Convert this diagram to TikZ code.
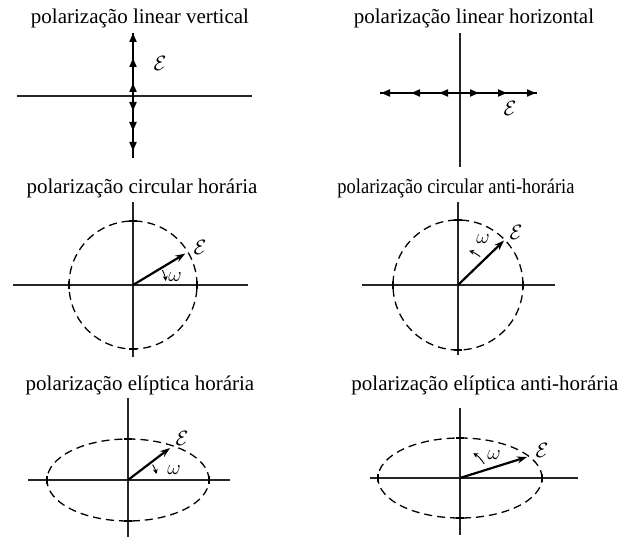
\documentclass[tikz,border=0pt]{standalone}
\usepackage{fontspec}
\setmainfont{Liberation Serif}
\usetikzlibrary{arrows.meta,decorations.markings,calc}
\tikzset{
  axis/.style    = {line width=1.4pt, draw=black!85},
  orbit/.style   = {line width=1.3pt, dash pattern=on 8pt off 5pt},
  field/.style   = {-{Stealth[length=10pt,width=7pt]}, line width=2.2pt},
  spin/.style    = {-{Stealth[length=5pt,width=5pt]}, line width=0.9pt},
  tick/.style    = {line width=1.3pt},
  caption/.style = {font=\fontsize{21}{24}\selectfont, inner sep=0pt},
  sym/.style     = {font=\fontsize{20}{24}\selectfont, inner sep=0pt},
  tips/.style args = {#1/#2/#3}{line width=1.9pt,
    decoration={markings,
      mark=at position #1 with {\arrow{Triangle[length=9pt,width=7pt]}},
      mark=at position #2 with {\arrow{Triangle[length=9pt,width=7pt]}},
      mark=at position #3 with {\arrow{Triangle[length=9pt,width=7pt]}}},
    postaction=decorate},
}

\begin{document}
\begin{tikzpicture}[x=1pt,y=1pt]
  \useasboundingbox (0,0) rectangle (619,-537);

  % linear vertical
  \node[caption] (t1) at (140,-18) {polarização linear vertical};
  \coordinate (o1) at (133,-96);
  \coordinate (n1) at (133,-33);
  \coordinate (s1) at (133,-158);
  \coordinate (w1) at (17,-96);
  \coordinate (e1) at (252,-96);
  \draw[axis] (w1) -- (e1);
  \draw[tips={13pt/38pt/63pt}] (o1) -- (n1);
  \draw[tips={15pt/35pt/55pt}] (o1) -- (s1);
  \node[sym] (E1) at (160,-63) {$\mathcal{E}$};

  % linear horizontal
  \node[caption] (t2) at (474,-18) {polarização linear horizontal};
  \coordinate (o2) at (460,-93);
  \coordinate (n2) at (460,-33);
  \coordinate (s2) at (460,-167);
  \coordinate (w2) at (380,-93);
  \coordinate (e2) at (537,-93);
  \draw[axis] (n2) -- (s2);
  \draw[tips={19pt/47pt/76pt}] (o2) -- (e2);
  \draw[tips={21pt/49pt/79pt}] (o2) -- (w2);
  \node[sym] (E2) at (510,-108) {$\mathcal{E}$};

  % circular clockwise
  \node[caption] (t3) at (142,-188) {polarização circular horária};
  \coordinate (o3) at (133,-285);
  \draw[axis] (13,-285) -- (248,-285);
  \draw[axis] (133,-202) -- (133,-357);
  \draw[orbit] (o3) circle [radius=64];
  \foreach \a in {0,90,180,270}
    \draw[tick] ($(o3)+(\a:64)+(\a+90:4)$) -- ($(o3)+(\a:64)+(\a-90:4)$);
  \coordinate (v3) at ($(o3)+(31:61)$);
  \draw[field] (o3) -- (v3);
  \draw[spin] ($(o3)+(27:33)$) arc [start angle=27, end angle=7, radius=33];
  \node[sym] (E3) at (200,-247) {$\mathcal{E}$};
  \node[sym] (w3) at (175,-277) {$\omega$};

  % circular counter-clockwise
  \node[caption, xscale=0.88, transform shape] (t4) at (456,-188) {polarização circular anti-horária};
  \coordinate (o4) at (458,-285);
  \draw[axis] (362,-285) -- (555,-285);
  \draw[axis] (458,-202) -- (458,-355);
  \draw[orbit] (o4) circle [radius=65];
  \foreach \a in {0,90,180,270}
    \draw[tick] ($(o4)+(\a:65)+(\a+90:4)$) -- ($(o4)+(\a:65)+(\a-90:4)$);
  \coordinate (v4) at ($(o4)+(44:64)$);
  \draw[field] (o4) -- (v4);
  \draw[spin] ($(o4)+(52:36)$) arc [start angle=52, end angle=72, radius=36];
  \node[sym] (E4) at (516,-232) {$\mathcal{E}$};
  \node[sym] (w4) at (483,-239) {$\omega$};

  % elliptical clockwise
  \node[caption] (t5) at (140,-385) {polarização elíptica horária};
  \coordinate (o5) at (128,-480);
  \draw[axis] (28,-480) -- (230,-480);
  \draw[axis] (128,-398) -- (128,-537);
  \draw[orbit] (o5) ellipse [x radius=81, y radius=41];
  \draw[tick] (124,-439) -- (132,-439);
  \draw[tick] (124,-521) -- (132,-521);
  \draw[tick] (47,-476) -- (47,-484);
  \draw[tick] (209,-476) -- (209,-484);
  \coordinate (v5) at (170,-448);
  \draw[field] (o5) -- (v5);
  \draw[spin] ($(o5)+(32:29)$) arc [start angle=32, end angle=12, radius=29];
  \node[sym] (E5) at (182,-438) {$\mathcal{E}$};
  \node[sym] (w5) at (174,-470) {$\omega$};

  % elliptical counter-clockwise
  \node[caption] (t6) at (485,-385) {polarização elíptica anti-horária};
  \coordinate (o6) at (460,-478);
  \draw[axis] (370,-478) -- (578,-478);
  \draw[axis] (460,-408) -- (460,-535);
  \draw[orbit] (o6) ellipse [x radius=82, y radius=40];
  \draw[tick] (456,-438) -- (464,-438);
  \draw[tick] (456,-518) -- (464,-518);
  \draw[tick] (378,-474) -- (378,-482);
  \draw[tick] (542,-474) -- (542,-482);
  \coordinate (v6) at (527,-457);
  \draw[field] (o6) -- (v6);
  \draw[spin] ($(o6)+(30:28)$) arc [start angle=30, end angle=62, radius=28];
  \node[sym] (E6) at (542,-450) {$\mathcal{E}$};
  \node[sym] (w6) at (494,-455) {$\omega$};
\end{tikzpicture}
\end{document}
